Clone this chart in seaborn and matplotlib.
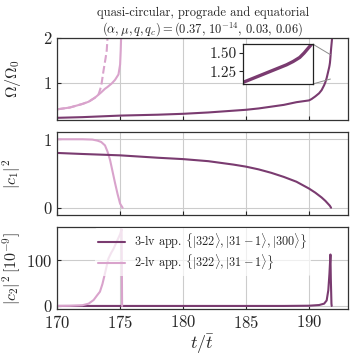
"""
Three-level vs two-level approximation: orbital frequency and level populations.
"""

import numpy as np
import pandas as pd
import seaborn as sns
import matplotlib.pyplot as plt
from mpl_toolkits.axes_grid1.inset_locator import mark_inset


# ---------------------------------------------------------------------
# Data
# ---------------------------------------------------------------------
# Omega / Omega_0, 3-level approximation
T_OMEGA_3LV = [170, 172, 175, 178, 180, 182, 184, 185, 186, 187, 188, 189, 190,
               190.2, 190.5, 190.8, 191.0, 191.2, 191.3, 191.4, 191.45, 191.5,
               191.55, 191.6, 191.63, 191.66, 191.68, 191.7, 191.72, 191.75,
               191.8, 191.85, 191.9]
OMEGA_3LV = [0.21, 0.225, 0.26, 0.28, 0.30, 0.33, 0.37, 0.39, 0.42, 0.46, 0.50,
             0.56, 0.60, 0.63, 0.69, 0.76, 0.83, 0.94, 1.01, 1.10, 1.16, 1.22,
             1.28, 1.34, 1.385, 1.44, 1.50, 1.57, 1.64, 1.75, 1.90, 2.05, 2.3]

# Omega / Omega_0, 2-level approximation (solid and dashed)
T_OMEGA_2LV = [170, 171, 172, 172.5, 173, 173.5, 173.8, 174.0, 174.34, 174.6,
               174.87, 175.0, 175.05, 175.08, 175.1]
OMEGA_2LV = [0.40, 0.44, 0.52, 0.57, 0.66, 0.78, 0.86, 0.90, 0.98, 1.06,
             1.18, 1.40, 1.72, 2.0, 2.3]
T_OMEGA_2LV_DASH = [170, 171, 172, 172.5, 173, 173.3, 173.5, 173.68, 173.85,
                    173.94, 174.0, 174.05]
OMEGA_2LV_DASH = [0.40, 0.44, 0.52, 0.57, 0.66, 0.74, 0.92, 1.26, 1.55,
                  1.72, 2.0, 2.3]

# |c1|^2
T_C1_3LV = [170, 172, 175, 178, 180, 182, 184, 185, 186, 187, 188, 189, 190,
            190.5, 191, 191.3, 191.5, 191.65, 191.75]
C1_3LV = [0.80, 0.785, 0.765, 0.73, 0.71, 0.68, 0.63, 0.60, 0.56, 0.51, 0.45,
          0.38, 0.28, 0.22, 0.15, 0.10, 0.06, 0.03, 0.0]
T_C1_2LV = [170, 171, 172, 172.8, 173.2, 173.5, 173.8, 174.0, 174.2, 174.4,
            174.6, 174.8, 175.0, 175.2]
C1_2LV = [1.0, 1.0, 1.0, 0.995, 0.98, 0.96, 0.91, 0.82, 0.70, 0.53, 0.36,
          0.20, 0.06, 0.0]

# |c2|^2 in units of 1e-9
T_C2_3LV = [170, 180, 188, 190, 190.8, 191.2, 191.4, 191.53, 191.62, 191.7,
            191.73, 191.78, 191.8]
C2_3LV = [0, 0, 0, 0.5, 2, 5, 12, 34, 70, 112, 60, 5, 0]
T_C2_2LV = [170, 171, 172, 172.5, 172.9, 173.2, 173.4, 173.6, 173.8, 174.07,
            174.3, 174.47, 174.7, 175.0, 175.12, 175.14, 175.16]
C2_2LV = [0, 0.3, 1.5, 5, 13, 24, 31, 48, 71, 103, 116, 124, 138, 156, 167,
          80, 0]

X_TICKS = [170, 175, 180, 185, 190]

LABEL_3LV = r"3-lv app. $\{|322\rangle, |31-1\rangle, |300\rangle\}$"
LABEL_2LV = r"2-lv app. $\{|322\rangle, |31-1\rangle\}$"

DARK = "#7a3b70"
LIGHT = "#d9a3cc"


# ---------------------------------------------------------------------
# Style
# ---------------------------------------------------------------------
sns.set_style("ticks")
plt.rcParams.update({
    "font.family": "serif",
    "font.serif": ["cmr10", "DejaVu Serif"],
    "mathtext.fontset": "cm",
    "axes.formatter.use_mathtext": True,
    "axes.unicode_minus": False,
    "font.size": 12,
    "xtick.direction": "in",
    "ytick.direction": "in",
    "xtick.labelsize": 12,
    "ytick.labelsize": 12,
    "axes.edgecolor": "#333333",
    "axes.linewidth": 0.9,
    "grid.color": "#cccccc",
    "grid.linewidth": 0.8,
})


def draw(ax, t, y, color, label=None, **kw):
    df = pd.DataFrame({"t": t, "y": y})
    sns.lineplot(data=df, x="t", y="y", ax=ax, color=color, lw=1.5,
                 sort=False, estimator=None, label=label, legend=False, **kw)


fig, axes = plt.subplots(3, 1, figsize=(3.57, 3.57), dpi=100, sharex=True,
                         gridspec_kw={"hspace": 0.15})
fig.subplots_adjust(left=0.16, right=0.975, top=0.894, bottom=0.134)
ax1, ax2, ax3 = axes

# --- top: orbital frequency
draw(ax1, T_OMEGA_2LV_DASH, OMEGA_2LV_DASH, LIGHT, linestyle="--")
draw(ax1, T_OMEGA_2LV, OMEGA_2LV, LIGHT)
draw(ax1, T_OMEGA_3LV, OMEGA_3LV, DARK)
ax1.set_ylim(0.16, 2)
ax1.set_yticks([1, 2])
ax1.set_title("quasi-circular, prograde and equatorial\n"
              r"$(\alpha, \mu, q, q_c) = (0.37,\, 10^{-14},\, 0.03,\, 0.06)$",
              fontsize=9, pad=3, linespacing=1.1)

axins = ax1.inset_axes([0.638, 0.439, 0.241, 0.484])
draw(axins, T_OMEGA_3LV, OMEGA_3LV, DARK)
axins.lines[0].set_linewidth(2.4)
axins.set_xlim(191.4, 191.72)
axins.set_ylim(1.08, 1.62)
axins.set_yticks([1.25, 1.50])
axins.set_yticklabels(["1.25", "1.50"])
axins.set_xticks([])
axins.set_xlabel("")
axins.set_ylabel("")
axins.tick_params(axis="y", labelsize=11, direction="out", length=3, pad=1)
for s in axins.spines.values():
    s.set_color("#222222")
box, c1, c2 = mark_inset(ax1, axins, loc1=1, loc2=4, fc="none", ec="0.55",
                         lw=0.7)
box.set_visible(False)

# --- middle: |c1|^2
draw(ax2, T_C1_2LV, C1_2LV, LIGHT)
draw(ax2, T_C1_3LV, C1_3LV, DARK)
ax2.set_ylim(-0.1, 1.1)
ax2.set_yticks([0, 1])

# --- bottom: |c2|^2
draw(ax3, T_C2_3LV, C2_3LV, DARK, label=LABEL_3LV)
draw(ax3, T_C2_2LV, C2_2LV, LIGHT, label=LABEL_2LV)
ax3.set_ylim(-7, 172)
ax3.set_yticks([0, 100])
ax3.set_xlabel(r"$t/\bar{t}$", fontsize=13, labelpad=1)
leg = ax3.legend(loc="upper center", fontsize=8.8, frameon=True,
                 framealpha=0.7, handlelength=2.2, handletextpad=0.7,
                 labelspacing=0.15, borderaxespad=0.1, borderpad=0.3)
leg.get_frame().set_edgecolor("none")

for ax, lab in zip(axes, [r"$\Omega/\Omega_0$", r"$|c_1|^2$",
                          r"$|c_2|^2\,[10^{-9}]$"]):
    ax.set_ylabel(lab, fontsize=11.5, labelpad=2)
    ax.set_xlim(170, 193.1)
    ax.set_xticks(X_TICKS)
    ax.grid(True)
    ax.tick_params(length=3)
for ax in (ax1, ax2):
    ax.set_xlabel("")
fig.align_ylabels(axes)

fig.savefig("out.png", dpi=100)
